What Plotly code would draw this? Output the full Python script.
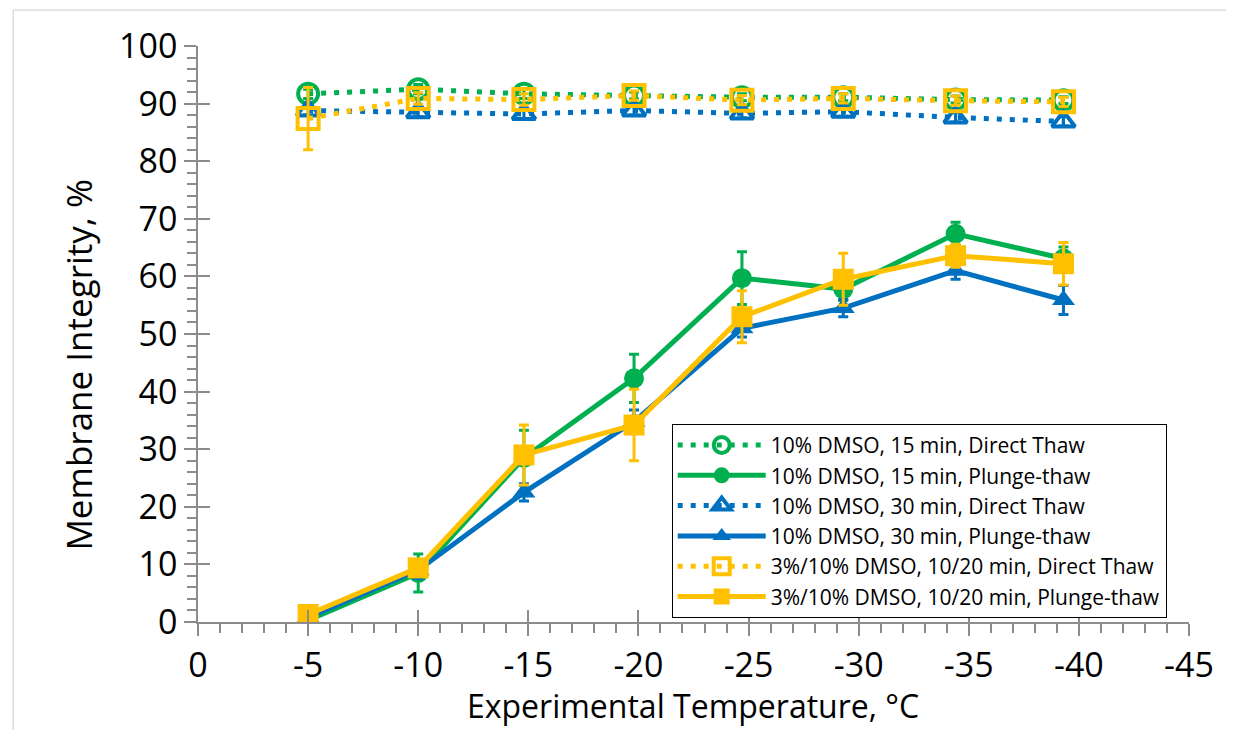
import plotly.graph_objects as go

# ---- data ----
temps = [-5.0, -10.0, -14.8, -19.8, -24.7, -29.3, -34.4, -39.3]

x_tickvals = [0, -5, -10, -15, -20, -25, -30, -35, -40, -45]
x_ticktext = ["0", "-5", "-10", "-15", "-20", "-25", "-30", "-35", "-40", "-45"]
y_tickvals = [0, 10, 20, 30, 40, 50, 60, 70, 80, 90, 100]

dmso15_direct = [91.7, 92.5, 91.7, 91.4, 91.1, 91.1, 90.7, 90.6]
dmso15_direct_err = [0.8, 0.8, 0.8, 0.6, 0.6, 0.6, 0.6, 0.6]
dmso15_plunge = [0.3, 8.5, 28.5, 42.3, 59.7, 57.8, 67.4, 63.1]
dmso15_plunge_err = [0.5, 3.3, 4.8, 4.2, 4.6, 2.0, 2.0, 2.0]

dmso30_direct = [88.8, 88.5, 88.2, 88.8, 88.3, 88.6, 87.6, 86.9]
dmso30_direct_err = [0.8, 0.8, 0.8, 0.8, 0.8, 0.8, 0.8, 0.8]
dmso30_plunge = [0.8, 9.0, 22.5, 34.8, 51.0, 54.5, 61.0, 55.9]
dmso30_plunge_err = [0.5, 1.5, 1.5, 2.0, 1.5, 1.5, 1.5, 2.5]

mix_direct = [87.4, 90.9, 90.7, 91.4, 90.6, 90.9, 90.5, 90.3]
mix_direct_err = [5.4, 1.0, 1.0, 0.8, 0.8, 0.8, 0.8, 0.8]
mix_plunge = [1.3, 9.4, 29.0, 34.2, 53.0, 59.5, 63.6, 62.2]
mix_plunge_err = [0.5, 1.0, 5.2, 6.2, 4.5, 4.5, 2.0, 3.7]

names = [
    "10% DMSO, 15 min, Direct Thaw",
    "10% DMSO, 15 min, Plunge-thaw",
    "10% DMSO, 30 min, Direct Thaw",
    "10% DMSO, 30 min, Plunge-thaw",
    "3%/10% DMSO, 10/20 min, Direct Thaw",
    "3%/10% DMSO, 10/20 min, Plunge-thaw",
]
x_title = "Experimental Temperature, °C"
y_title = "Membrane Integrity, %"

GREEN = "#00B050"
BLUE = "#0070C0"
YELLOW = "#FFC000"
AXIS = "#8c8c8c"
FONT = "Open Sans"

series = [
    (dmso15_direct, dmso15_direct_err, GREEN, "circle-open", 20, True),
    (dmso15_plunge, dmso15_plunge_err, GREEN, "circle", 20, False),
    (dmso30_direct, dmso30_direct_err, BLUE, "triangle-up-open", 20, True),
    (dmso30_plunge, dmso30_plunge_err, BLUE, "triangle-up", 20, False),
    (mix_direct, mix_direct_err, YELLOW, "square-open", 21, True),
    (mix_plunge, mix_plunge_err, YELLOW, "square", 21, False),
]

fig = go.Figure()
for name, (vals, errs, col, sym, size, dotted) in zip(names, series):
    fig.add_trace(go.Scatter(
        x=temps, y=vals, name=name, mode="lines+markers",
        line=dict(color=col, width=5, dash="5px,8px" if dotted else "solid"),
        marker=dict(symbol=sym, size=size, color=col,
                    line=dict(color=col, width=4 if dotted else 0)),
        error_y=dict(type="data", array=errs, visible=True,
                     color=col, thickness=3, width=5),
    ))

# dummy trace for overlay axes (inner half of crossing major ticks)
fig.add_trace(go.Scatter(x=[None], y=[None], xaxis="x2", yaxis="y2",
                         showlegend=False, hoverinfo="skip"))

fig.update_layout(
    width=1218, height=722,
    margin=dict(l=190, r=30, t=38, b=108),
    paper_bgcolor="white", plot_bgcolor="white",
    font=dict(family=FONT, color="black"),
    showlegend=True,
    legend=dict(
        x=0.478, y=0.344, xanchor="left", yanchor="top",
        bordercolor="black", borderwidth=1, bgcolor="white",
        font=dict(family=FONT, size=21, color="black"),
        itemwidth=88, tracegroupgap=0,
    ),
    xaxis=dict(
        range=[0, -45], tickmode="array", tickvals=x_tickvals, ticktext=x_ticktext,
        showline=True, linecolor=AXIS, linewidth=1.5,
        ticks="outside", ticklen=12, tickwidth=1.5, tickcolor=AXIS,
        minor=dict(dtick=1, tick0=0, ticks="outside", ticklen=9, tickwidth=1.5, tickcolor=AXIS),
        showgrid=False, zeroline=False,
        tickfont=dict(family=FONT, size=34, color="black"),
    ),
    yaxis=dict(
        range=[0, 100], tickmode="array", tickvals=y_tickvals,
        showline=True, linecolor=AXIS, linewidth=1.5,
        ticks="outside", ticklen=12, tickwidth=1.5, tickcolor=AXIS,
        minor=dict(dtick=2, tick0=0, ticks="outside", ticklen=9, tickwidth=1.5, tickcolor=AXIS),
        showgrid=False, zeroline=False,
        tickfont=dict(family=FONT, size=34, color="black"),
    ),
    xaxis2=dict(
        overlaying="x", anchor="y2", side="bottom", range=[0, -45],
        tickmode="array", tickvals=x_tickvals, ticks="inside", ticklen=12,
        tickwidth=1.5, tickcolor=AXIS, showticklabels=False,
        showline=False, showgrid=False, zeroline=False,
    ),
    yaxis2=dict(
        overlaying="y", anchor="x2", side="left", range=[0, 100],
        tickmode="array", tickvals=y_tickvals, ticks="inside", ticklen=12,
        tickwidth=1.5, tickcolor=AXIS, showticklabels=False,
        showline=False, showgrid=False, zeroline=False,
    ),
    annotations=[
        dict(text=x_title, xref="paper", yref="paper", x=0.499, y=-0.145,
             xanchor="center", yanchor="middle", showarrow=False,
             font=dict(family=FONT, size=32, color="black")),
        dict(text=y_title, xref="paper", yref="paper", x=-0.121, y=0.447,
             xanchor="center", yanchor="middle", textangle=-90, showarrow=False,
             font=dict(family=FONT, size=35, color="black")),
    ],
    shapes=[
        dict(type="line", xref="paper", yref="paper",
             x0=-0.1864, x1=1.04, y0=1.0625, y1=1.0625,
             line=dict(color="#dcdcdc", width=1.5)),
        dict(type="line", xref="paper", yref="paper",
             x0=-0.1864, x1=-0.1864, y0=1.0625, y1=-0.21,
             line=dict(color="#dcdcdc", width=1.5)),
    ],
)

fig.write_html("out.html")
